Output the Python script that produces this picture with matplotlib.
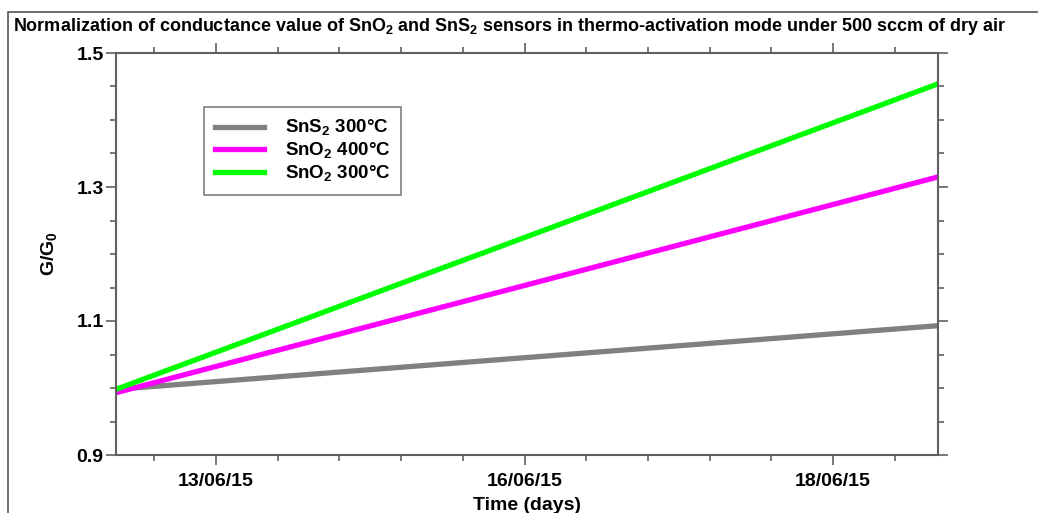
import matplotlib.pyplot as plt
from matplotlib.ticker import MultipleLocator
from matplotlib.patches import Rectangle

plt.rcParams['font.family'] = ['Liberation Sans', 'DejaVu Sans']
plt.rcParams['font.weight'] = 'bold'
plt.rcParams['mathtext.fontset'] = 'custom'
plt.rcParams['mathtext.bf'] = 'Liberation Sans:bold'
plt.rcParams['mathtext.rm'] = 'Liberation Sans:bold'

# time axis in day-units (minor tick = 1)
days = [0.0, 13.32]
sns2_300 = [0.998, 1.093]
sno2_400 = [0.993, 1.315]
sno2_300 = [0.998, 1.454]

tick_labels = ['13/06/15', '16/06/15', '18/06/15']
tick_days = [1.62, 6.62, 11.62]

fig = plt.figure(figsize=(10.38, 5.13), dpi=100)
fig.patches.append(Rectangle((8 / 1038, -0.1), 1.2, (513 - 12) / 513 + 0.1,
                             transform=fig.transFigure, fill=False,
                             edgecolor='#555555', linewidth=1.2))
ax = fig.add_axes([116 / 1038, 58 / 513, 822 / 1038, 402 / 513])

ax.plot(days, sns2_300, color='#808080', lw=3.8, label='SnS$_\\mathbf{2}$ 300°C')
ax.plot(days, sno2_400, color='#ff00ff', lw=3.8, label='SnO$_\\mathbf{2}$ 400°C')
ax.plot(days, sno2_300, color='#00ff00', lw=3.8, label='SnO$_\\mathbf{2}$ 300°C')

ax.set_xlim(days[0], days[1])
ax.set_ylim(0.9, 1.5)
ax.set_yticks([0.9, 1.1, 1.3, 1.5])
ax.set_yticklabels(['0.9', '1.1', '1.3', '1.5'])
ax.yaxis.set_minor_locator(MultipleLocator(0.05))
ax.set_xticks(tick_days)
ax.set_xticklabels(tick_labels)
ax.set_xticks([tick_days[0] - 1 + i for i in range(13)], minor=True)

for s in ax.spines.values():
    s.set_color('#606060')
    s.set_linewidth(1.5)
ax.tick_params(which='both', direction='out', top=True, right=True,
               color='#606060', width=1.2, labelsize=14)
ax.tick_params(which='major', length=7)
ax.tick_params(axis='y', which='major', pad=2)
ax.tick_params(axis='x', which='major', pad=6)
ax.tick_params(which='minor', length=4)

ax.set_xlabel('Time (days)', fontsize=14, fontweight='bold', labelpad=5)
ax.set_ylabel('G/G$_\\mathbf{0}$', fontsize=14, fontweight='bold', labelpad=12)

fig.text(13 / 1038, 1 - 31 / 513, 'Normalization of conductance value of SnO$_\\mathbf{2}$ and SnS$_\\mathbf{2}$ sensors in thermo-activation mode under 500 sccm of dry air',
         fontsize=13.0, fontweight='bold', ha='left', va='baseline')

leg = ax.legend(loc='upper left', bbox_to_anchor=(0.107, 0.866), borderaxespad=0,
                fancybox=False, edgecolor='#606060', prop={'size': 13.5, 'weight': 'bold'},
                handlelength=2.6, labelspacing=0.12, borderpad=0.6, handletextpad=1.1)
leg.get_frame().set_linewidth(1.2)

fig.savefig('out.png', dpi=100)
